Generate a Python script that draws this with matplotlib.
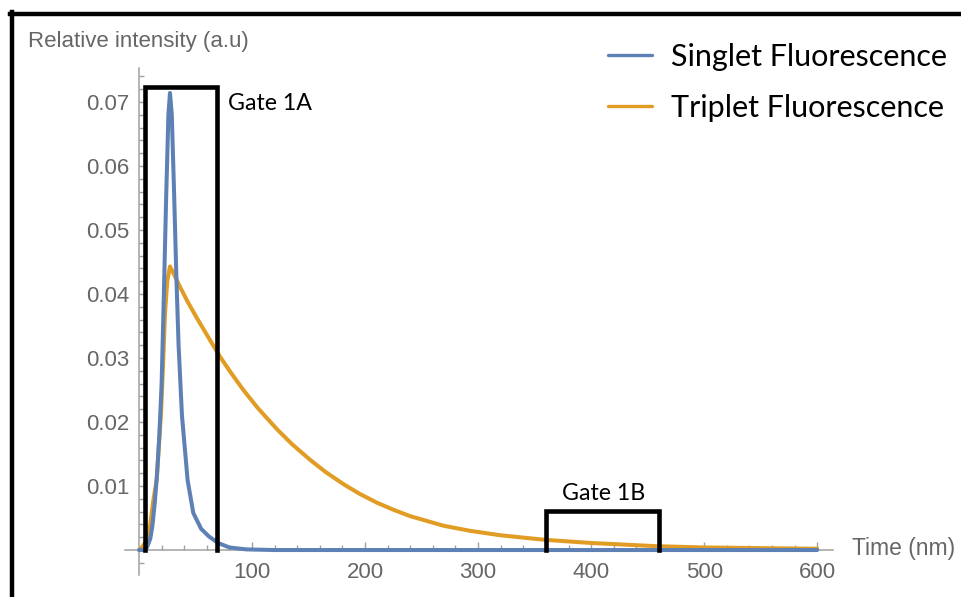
import numpy as np
import matplotlib
matplotlib.use("Agg")
import matplotlib.pyplot as plt
from matplotlib.lines import Line2D
from matplotlib.ticker import FixedLocator

# Emission curves read as (time, intensity) pairs
singlet_t = [0, 5, 7, 10, 12, 14, 16, 18, 20, 22, 24, 26, 27.4, 29, 31, 33, 35, 38,
             43, 48, 55, 62, 70, 80, 95, 120, 600]
singlet_i = [0, 0, 0.0004, 0.0018, 0.004, 0.0075, 0.012, 0.018, 0.026, 0.040, 0.055,
             0.068, 0.0714, 0.068, 0.056, 0.043, 0.032, 0.021, 0.0109, 0.0058, 0.0033,
             0.0021, 0.0011, 0.0004, 0.0001, 0, 0]

triplet_t = [0, 3, 6, 9, 12.7, 15.6, 19.5, 21.5, 23, 25, 27.4, 30, 33.3, 36.3, 43, 51,
             62.8, 71.7, 80.5, 92.3, 105, 121.9, 135, 151.3, 165, 180.8, 195, 210.4,
             225, 239.8, 269.3, 292.9, 320, 359, 400, 458, 500, 550, 600]
triplet_i = [0, 0.0005, 0.0013, 0.0027, 0.0078, 0.0109, 0.0214, 0.030, 0.037, 0.042,
             0.0443, 0.0434, 0.0422, 0.0411, 0.0388, 0.0363, 0.0328, 0.0302, 0.0279,
             0.0250, 0.0222, 0.0189, 0.0166, 0.0141, 0.0122, 0.0103, 0.0088, 0.0074,
             0.0063, 0.0053, 0.0038, 0.0030, 0.0023, 0.0016, 0.0011, 0.0006, 0.0004,
             0.0003, 0.0002]

# Detection gates: (start, end, height)
gate_a = (5, 69, 0.0723)
gate_b = (360, 460, 0.0061)

x_major = [100, 200, 300, 400, 500, 600]
x_minor = list(range(20, 601, 20))
y_major = [0.01, 0.02, 0.03, 0.04, 0.05, 0.06, 0.07]
y_minor = [round(-0.002 + 0.002 * k, 3) for k in range(39)]

BLUE = "#5e81b5"
ORANGE = "#e19c24"
AXIS_GREY = "#a0a0a0"
LABEL_GREY = "#666666"

W, H = 961, 597
fig = plt.figure(figsize=(W / 100, H / 100), dpi=100)
ax = fig.add_axes([125 / W, 1 - 575 / H, (833 - 125) / W, (575 - 68) / H])
ax.set_xlim(-12.4, 614)
ax.set_ylim(-0.0039, 0.0753)

ax.plot(singlet_t, singlet_i, color=BLUE, lw=2.9, label="Singlet Fluorescence",
        solid_capstyle="round", solid_joinstyle="round", zorder=3)
ax.plot(triplet_t, triplet_i, color=ORANGE, lw=2.9, label="Triplet Fluorescence",
        solid_capstyle="round", solid_joinstyle="round", zorder=2)

for t0, t1, h in (gate_a, gate_b):
    ax.plot([t0, t0, t1, t1], [0, h, h, 0], color="black", lw=3.3,
            solid_joinstyle="miter", zorder=4)

ax.text(79, 0.0698, "Gate 1A", family="Lato", fontsize=16.7, va="center", ha="left")
ax.text(411, 0.0089, "Gate 1B", family="Lato", fontsize=16.7, va="center", ha="center")

# Mathematica-like axes crossing at the origin
for side in ("top", "right"):
    ax.spines[side].set_visible(False)
ax.spines["left"].set_position(("data", 0))
ax.spines["bottom"].set_position(("data", 0))
for side in ("left", "bottom"):
    ax.spines[side].set_color(AXIS_GREY)
    ax.spines[side].set_linewidth(1.1)

ax.xaxis.set_major_locator(FixedLocator(x_major))
ax.xaxis.set_minor_locator(FixedLocator(x_minor))
ax.yaxis.set_major_locator(FixedLocator(y_major))
ax.yaxis.set_minor_locator(FixedLocator(y_minor))
ax.set_xticklabels([str(v) for v in x_major])
ax.set_yticklabels([f"{v:.2f}" for v in y_major])
ax.tick_params(which="both", direction="in", color=AXIS_GREY, width=1.0)
ax.tick_params(which="major", length=6)
ax.tick_params(which="minor", length=3.5)
ax.tick_params(axis="x", which="major", pad=8.5, labelsize=16, labelcolor=LABEL_GREY)
ax.tick_params(axis="y", which="major", pad=7, labelsize=16, labelcolor=LABEL_GREY)
for lbl in ax.get_xticklabels() + ax.get_yticklabels():
    lbl.set_family("Liberation Sans")

fig.text(28 / W, 1 - 42 / H, "Relative intensity (a.u)", family="Liberation Sans",
         fontsize=16, color=LABEL_GREY, va="center", ha="left")
fig.text(852 / W, 1 - 549 / H, "Time (nm)", family="Liberation Sans",
         fontsize=16.5, color=LABEL_GREY, va="center", ha="left")

leg = ax.legend(loc="upper left", bbox_to_anchor=(608 / W, 1 - 43 / H),
                bbox_transform=fig.transFigure, frameon=False,
                prop={"family": "Lato", "size": 22}, handlelength=1.45,
                handletextpad=0.62, labelspacing=0.75, borderaxespad=0,
                borderpad=0)
for h in leg.legend_handles:
    h.set_linewidth(2.4)

# frame along the top and left edges
fig.add_artist(Line2D([10 / W, 1], [1 - 13.5 / H] * 2, color="black", lw=3.2,
                      transform=fig.transFigure))
fig.add_artist(Line2D([12 / W] * 2, [0, 1 - 12 / H], color="black", lw=3.2,
                      transform=fig.transFigure))

fig.savefig("out.png", dpi=100)
